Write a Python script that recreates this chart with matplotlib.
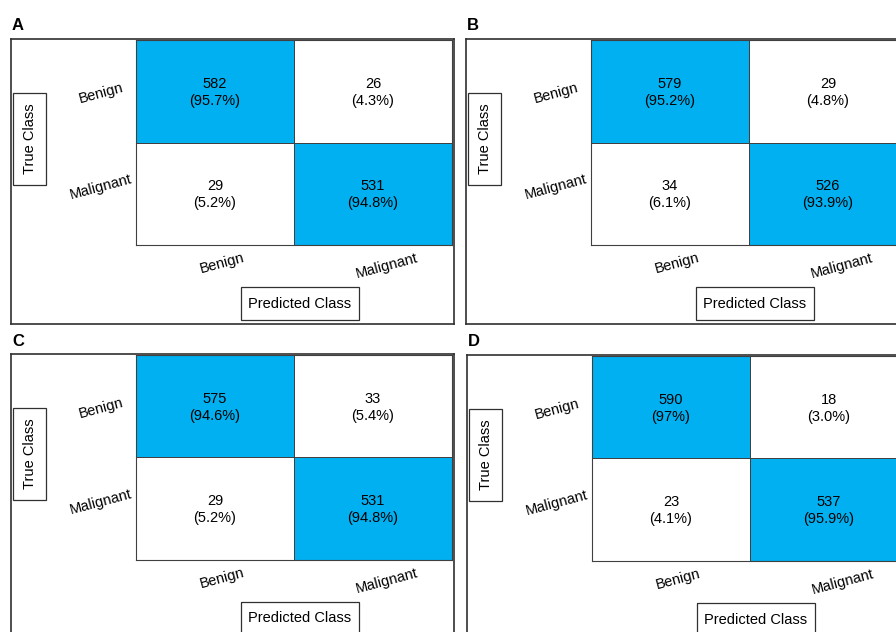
import matplotlib.pyplot as plt
from matplotlib.colors import ListedColormap
from matplotlib.patches import Rectangle
import numpy as np

plt.rcParams['font.family'] = ['Liberation Sans', 'DejaVu Sans']

# confusion counts, rows = true class, cols = predicted class
classes = ['Benign', 'Malignant']
panel_names = ['A', 'B', 'C', 'D']
counts_a = [[582, 26], [29, 531]]
counts_b = [[579, 29], [34, 526]]
counts_c = [[575, 33], [29, 531]]
counts_d = [[590, 18], [23, 537]]

W, H = 896, 632
blue = '#00B0F0'
edge = '#404040'
fs = 10.5


def fig_rect(x0, y0, x1, y1):
    # pixel box (top-left origin) -> figure fraction rect
    return [x0 / W, 1 - y1 / H, (x1 - x0) / W, (y1 - y0) / H]


def fmt_pct(p):
    s = '{:.1f}'.format(p)
    if p >= 10 and s.endswith('.0'):
        s = s[:-2]
    return '(' + s + '%)'


def draw_panel(fig, name, counts, dx, dy):
    counts = np.array(counts)
    pct = 100 * counts / counts.sum(axis=1, keepdims=True)

    # outer frame, local pixel coords
    ox0, oy0, ox1, oy1 = 11 + dx, 39 + dy, 454 + dx, 324 + dy
    outer = fig.add_axes(fig_rect(ox0, oy0, ox1, oy1))
    outer.set_xlim(0, ox1 - ox0)
    outer.set_ylim(oy1 - oy0, 0)
    outer.set_xticks([])
    outer.set_yticks([])
    for s in outer.spines.values():
        s.set_color('#303030')
        s.set_linewidth(1.2)

    outer.add_patch(Rectangle((2, 54), 33, 92, fill=False, ec='#303030', lw=0.9))
    outer.text(18.5, 100, 'True Class', rotation=90, ha='center', va='center', fontsize=fs)
    outer.add_patch(Rectangle((230, 248), 118, 33, fill=False, ec='#303030', lw=0.9))
    outer.text(289, 264.5, 'Predicted Class', ha='center', va='center', fontsize=fs)

    fig.text((12 + dx) / W, 1 - (26 + dy) / H, name, fontsize=12, fontweight='bold',
             ha='left', va='center')

    # the 2x2 grid
    ax = fig.add_axes(fig_rect(136 + dx, 40 + dy, 452 + dx, 245 + dy))
    ax.pcolormesh(np.eye(2), cmap=ListedColormap(['white', blue]),
                  edgecolors=edge, linewidth=0.72)
    ax.set_xlim(0, 2)
    ax.set_ylim(2, 0)
    ax.set_xticks([])
    ax.set_yticks([])
    for s in ax.spines.values():
        s.set_color(edge)
        s.set_linewidth(0.8)

    for i in range(2):
        for j in range(2):
            ax.text(j + 0.5, i + 0.51, '{}\n{}'.format(counts[i, j], fmt_pct(pct[i, j])),
                    ha='center', va='center', fontsize=fs, linespacing=1.25)

    # rotated class names
    col_shift = [7, 14]
    for j, c in enumerate(classes):
        ax.annotate(c, xy=(j + 0.5, 0), xycoords=('data', 'axes fraction'),
                    xytext=(col_shift[j], -18 - 3 * j), textcoords='offset pixels',
                    rotation=15, ha='center', va='center', fontsize=fs)
    row_shift = [2, -7]
    for i, c in enumerate(classes):
        ax.annotate(c, xy=(0, i + 0.5), xycoords=('axes fraction', 'data'),
                    xytext=(-35, -row_shift[i]), textcoords='offset pixels',
                    rotation=15, ha='center', va='center', fontsize=fs)


fig = plt.figure(figsize=(W / 100, H / 100), dpi=100)
all_counts = [counts_a, counts_b, counts_c, counts_d]
offsets = [(0, 0), (455, 0), (0, 315), (456, 316)]
for name, cm, (dx, dy) in zip(panel_names, all_counts, offsets):
    draw_panel(fig, name, cm, dx, dy)

fig.savefig('out.png', dpi=100)
